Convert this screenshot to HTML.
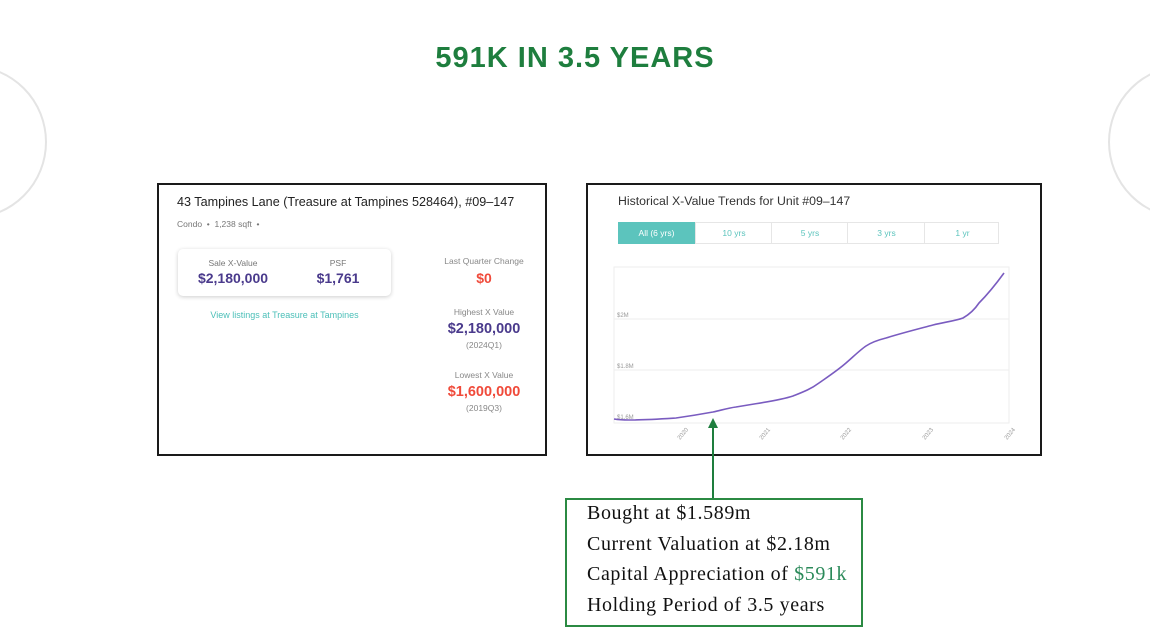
<!DOCTYPE html>
<html><head><style>
body{margin:0;width:1150px;height:642px;background:#fff;position:relative;overflow:hidden;font-family:"Liberation Sans",sans-serif}
.a{position:absolute}
.c{position:absolute;border:2px solid #e4e4e4;border-radius:50%;width:150px;height:150px}
</style></head><body>
<div class="c" style="left:-107px;top:65px"></div>
<div class="c" style="left:1108px;top:65px"></div>
<div class="a" style="left:0;width:1150px;top:42px;text-align:center;font-size:29px;font-weight:bold;color:#1e7e3e;letter-spacing:1px">591K IN 3.5 YEARS</div>

<div class="a" style="left:157px;top:183px;width:386px;height:269px;border:2px solid #1a1a1a;background:#fff">
 <div class="a" style="left:18px;top:10px;font-size:12.6px;color:#222">43 Tampines Lane (Treasure at Tampines 528464), #09–147</div>
 <div class="a" style="left:18px;top:34px;font-size:8.5px;color:#777">Condo &nbsp;•&nbsp; 1,238 sqft &nbsp;•</div>
 <div class="a" style="left:19px;top:64px;width:213px;height:47px;border-radius:5px;box-shadow:0 1px 4px rgba(0,0,0,.2);background:#fff">
  <div class="a" style="left:0;width:110px;top:9px;text-align:center;font-size:8.5px;color:#777">Sale X-Value</div>
  <div class="a" style="left:0;width:110px;top:21px;text-align:center;font-size:14px;font-weight:bold;color:#4a3a8c">$2,180,000</div>
  <div class="a" style="left:120px;width:80px;top:9px;text-align:center;font-size:8.5px;color:#777">PSF</div>
  <div class="a" style="left:120px;width:80px;top:21px;text-align:center;font-size:14px;font-weight:bold;color:#4a3a8c">$1,761</div>
 </div>
 <div class="a" style="left:19px;width:213px;top:125px;text-align:center;font-size:9px;color:#4bbfb8">View listings at Treasure at Tampines</div>
 <div class="a" style="left:265px;width:120px;top:71px;text-align:center;font-size:8.5px;color:#888">Last Quarter Change</div>
 <div class="a" style="left:265px;width:120px;top:85px;text-align:center;font-size:14px;font-weight:bold;color:#f04a3a">$0</div>
 <div class="a" style="left:265px;width:120px;top:122px;text-align:center;font-size:8.5px;color:#888">Highest X Value</div>
 <div class="a" style="left:265px;width:120px;top:136px;text-align:center;font-size:14.5px;font-weight:bold;color:#4a3a8c">$2,180,000</div>
 <div class="a" style="left:265px;width:120px;top:155px;text-align:center;font-size:8.5px;color:#888">(2024Q1)</div>
 <div class="a" style="left:265px;width:120px;top:185px;text-align:center;font-size:8.5px;color:#888">Lowest X Value</div>
 <div class="a" style="left:265px;width:120px;top:199px;text-align:center;font-size:14.5px;font-weight:bold;color:#f04a3a">$1,600,000</div>
 <div class="a" style="left:265px;width:120px;top:218px;text-align:center;font-size:8.5px;color:#888">(2019Q3)</div>
</div>

<div class="a" style="left:586px;top:183px;width:452px;height:269px;border:2px solid #1a1a1a;background:#fff"></div>
<div class="a" style="left:618px;top:194px;font-size:12.3px;color:#333">Historical X-Value Trends for Unit #09–147</div>
<div class="a" style="left:618px;top:222px;width:381px;height:22px;border:1px solid #e6e6e6;box-sizing:border-box"></div>
<div class="a" style="left:618px;top:222px;width:77px;height:22px;background:#5cc4bd;color:#fff;font-size:8.5px;text-align:center;line-height:22px">All (6 yrs)</div>
<div class="a" style="left:695px;top:222px;width:76px;height:22px;border-left:1px solid #e6e6e6;color:#5cc4bd;font-size:8.5px;text-align:center;line-height:22px">10 yrs</div>
<div class="a" style="left:771px;top:222px;width:76px;height:22px;border-left:1px solid #e6e6e6;color:#5cc4bd;font-size:8.5px;text-align:center;line-height:22px">5 yrs</div>
<div class="a" style="left:847px;top:222px;width:77px;height:22px;border-left:1px solid #e6e6e6;color:#5cc4bd;font-size:8.5px;text-align:center;line-height:22px">3 yrs</div>
<div class="a" style="left:924px;top:222px;width:75px;height:22px;border-left:1px solid #e6e6e6;color:#5cc4bd;font-size:8.5px;text-align:center;line-height:22px">1 yr</div>

<svg class="a" style="left:0;top:0" width="1150" height="642">
 <rect x="614" y="267" width="395" height="156" fill="none" stroke="#eee"/>
 <line x1="614" y1="319" x2="1009" y2="319" stroke="#eee"/>
 <line x1="614" y1="370" x2="1009" y2="370" stroke="#eee"/>
 <g font-size="6" fill="#999" font-family="Liberation Sans">
  <text x="617" y="317">$2M</text><text x="617" y="368">$1.8M</text><text x="617" y="419">$1.6M</text>
  <text transform="translate(680,440) rotate(-50)">2020</text>
  <text transform="translate(762,440) rotate(-50)">2021</text>
  <text transform="translate(843,440) rotate(-50)">2022</text>
  <text transform="translate(925,440) rotate(-50)">2023</text>
  <text transform="translate(1007,440) rotate(-50)">2024</text>
 </g>
 <path d="M614,419 C620,420 625,420 629,420 C645,420 660,419 676,418 C690,416 702,414 713,412 C722,410 728,408 736,407 C758,403 778,401 793,396 C803,392 811,389 819,383 C829,376 838,370 846,363 C853,357 860,350 866,346 C872,342 878,340 886,338 C902,333 918,329 933,325 C945,322 955,321 963,318 C970,314 975,309 979,303 C988,294 996,284 1004,273" fill="none" stroke="#7a5cc0" stroke-width="1.6"/>
 <line x1="713" y1="426" x2="713" y2="498" stroke="#1e7e3e" stroke-width="2"/>
 <path d="M708,428 L713,418 L718,428 Z" fill="#1e7e3e"/>
</svg>

<div class="a" style="left:565px;top:498px;width:294px;height:125px;border:2px solid #2b8a43;font-family:'Liberation Serif',serif;font-size:20px;color:#111;line-height:30.5px;letter-spacing:0.6px">
 <div style="margin-left:20px;margin-top:-2px">Bought at $1.589m<br>Current Valuation at $2.18m<br>Capital Appreciation of <span style="color:#2b8a5a">$591k</span><br>Holding Period of 3.5 years</div>
</div>
</body></html>
